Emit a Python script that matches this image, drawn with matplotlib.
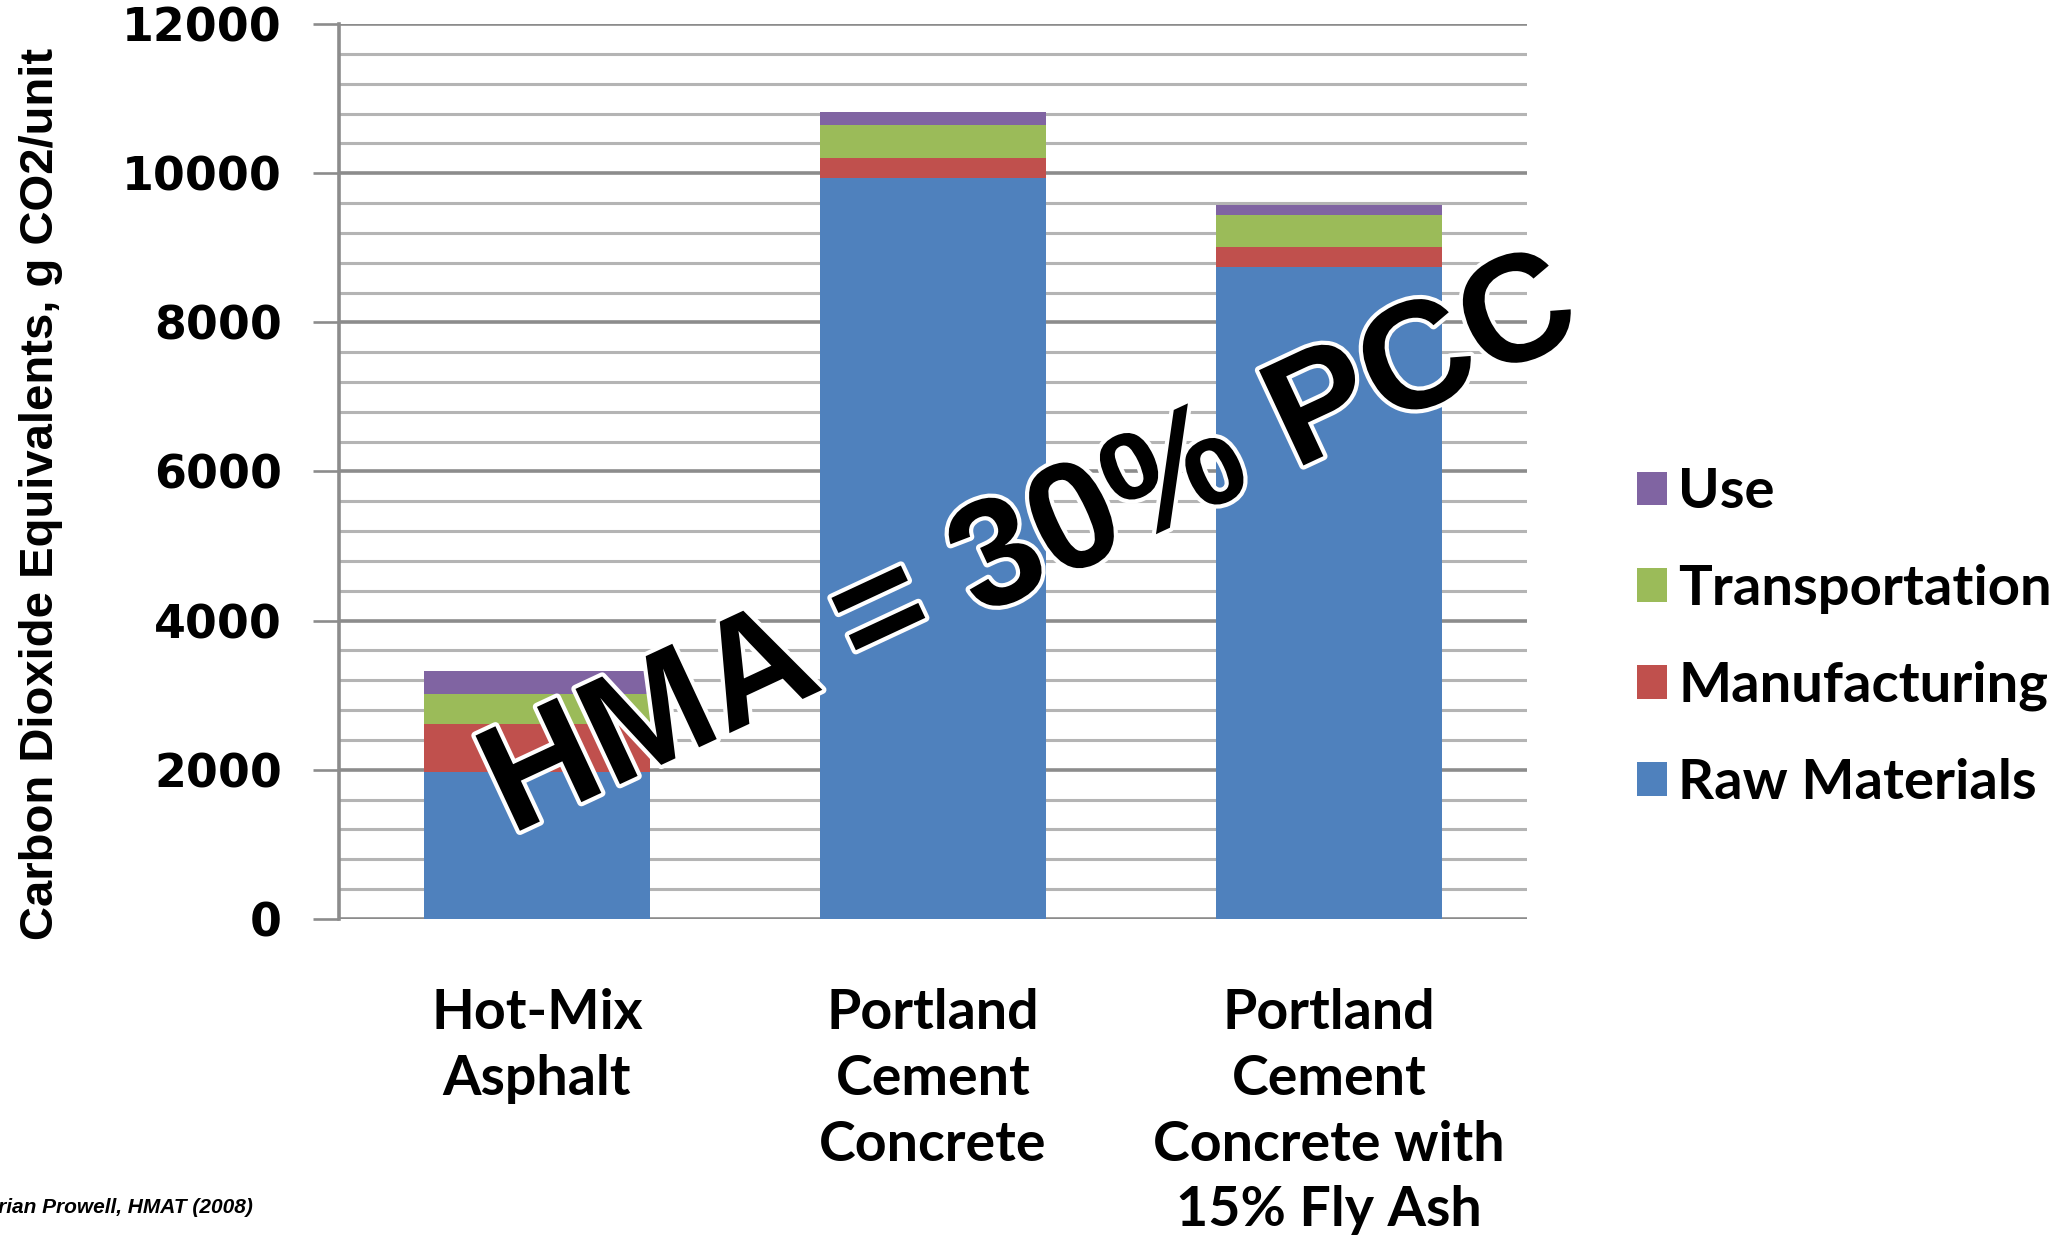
import matplotlib
matplotlib.use("Agg")
import matplotlib.pyplot as plt
import matplotlib.patheffects as pe
from matplotlib import font_manager
from matplotlib.ticker import MultipleLocator
import numpy as np

categories = ["Hot-Mix\nAsphalt", "Portland\nCement\nConcrete",
              "Portland\nCement\nConcrete with\n15% Fly Ash"]
raw_materials = [1970, 9940, 8740]
manufacturing = [645, 270, 265]
transportation = [400, 440, 435]
use = [315, 165, 135]

stages = ["Raw Materials", "Manufacturing", "Transportation", "Use"]
stage_colors = ["#4F81BD", "#C0504D", "#9BBB59", "#8064A2"]

installed = {f.name for f in font_manager.fontManager.ttflist}


def pick(*names):
    for n in names:
        if n in installed:
            return n
    return "DejaVu Sans"


label_font = pick("Lato", "Open Sans")
narrow_font = pick("Liberation Sans Narrow", "Liberation Sans")
arial_font = pick("Liberation Sans", "Arimo")

fig = plt.figure(figsize=(20.68, 12.38), dpi=100)
ax = fig.add_axes([0.1639, 0.2577, 0.5745, 0.7229])

x = np.arange(len(categories))
bottom = np.zeros(len(categories))
series = [raw_materials, manufacturing, transportation, use]
for name, vals, col in zip(stages, series, stage_colors):
    ax.bar(x, vals, width=0.57, bottom=bottom, color=col, label=name, zorder=3)
    bottom += np.array(vals)

ax.set_xlim(-0.5, 2.5)
ax.set_ylim(0, 12000)
ax.yaxis.set_major_locator(MultipleLocator(2000))
ax.yaxis.set_minor_locator(MultipleLocator(400))
ax.grid(axis="y", which="major", color="#8c8c8c", linewidth=2.6, zorder=0)
ax.grid(axis="y", which="minor", color="#b4b4b4", linewidth=2.2, zorder=0)
ax.set_axisbelow(True)

for side in ["top", "right", "bottom"]:
    ax.spines[side].set_visible(False)
ax.spines["left"].set_color("#8c8c8c")
ax.spines["left"].set_linewidth(2.6)

ax.tick_params(axis="y", which="major", length=19, width=1.9, color="#8c8c8c",
               pad=22, labelsize=33)
ax.tick_params(axis="y", which="minor", length=0)
for lbl in ax.get_yticklabels():
    lbl.set_fontweight("bold")
    lbl.set_family("DejaVu Sans")

ax.set_xticks(x)
ax.set_xticklabels(categories, fontsize=40, fontweight="bold",
                   family=label_font, linespacing=1.38, va="top")
ax.tick_params(axis="x", length=0, pad=50)

fig.text(0.020, 0.601, "Carbon Dioxide Equivalents, g CO2/unit",
         rotation=90, ha="center", va="center", fontsize=34,
         fontweight="bold", family=narrow_font)

handles, labels = ax.get_legend_handles_labels()
leg = fig.legend(handles[::-1], labels[::-1], loc="center left",
                 bbox_to_anchor=(0.767, 0.485), frameon=False,
                 prop={"family": label_font, "weight": "bold", "size": 40.5},
                 handlelength=0.54, handleheight=0.54, handletextpad=0.2,
                 labelspacing=0.83)

fig.text(1032 / 2068, 1 - 549 / 1238, "HMA = 30% PCC", rotation=25,
         ha="center", va="center", fontsize=110, fontweight="bold",
         family=arial_font, color="black", zorder=10,
         path_effects=[pe.withStroke(linewidth=6, foreground="white")])

# source credit runs off the left edge
fig.text(253 / 2068, 1 - 1213 / 1238, "Brian Prowell, HMAT (2008)",
         ha="right", va="baseline", fontsize=15, fontweight="bold",
         style="italic", family=arial_font)

fig.savefig("out.png", dpi=100, facecolor="white")
